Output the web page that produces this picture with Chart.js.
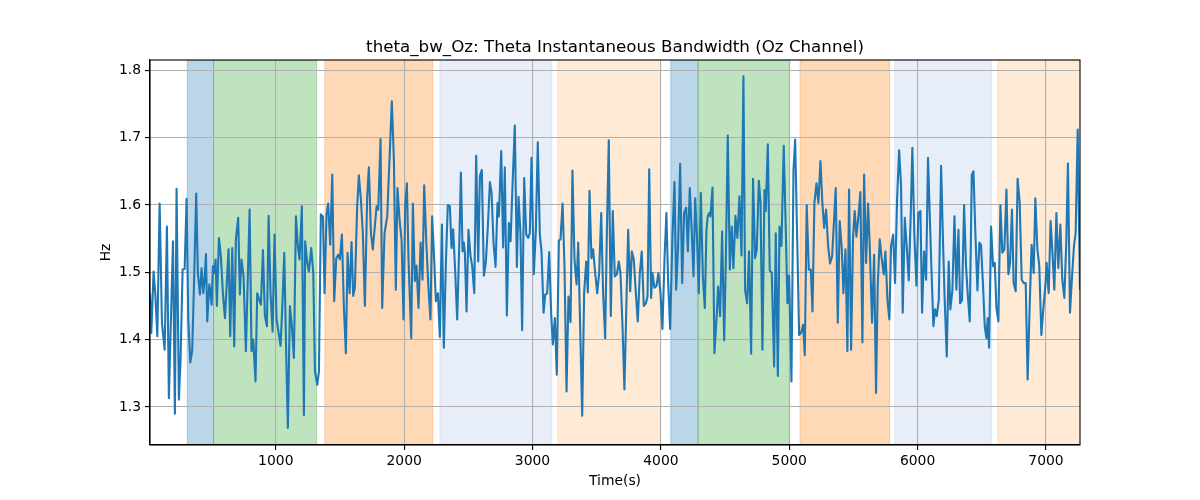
<!DOCTYPE html>
<html>
<head>
<meta charset="utf-8">
<title>theta_bw_Oz</title>
<script src="https://cdn.jsdelivr.net/npm/chart.js@4.4.1/dist/chart.umd.min.js"></script>
<style>
  html, body { margin: 0; padding: 0; background: #fff; }
  #wrap { width: 1200px; height: 500px; }
</style>
</head>
<body>
<div id="wrap"><canvas id="bwChart" width="1200" height="500"></canvas></div>
<script>
/* =========================================
   theta_bw_Oz — Theta instantaneous bandwidth
   ========================================= */

/* --- Data --- */
var TIME_S = [
  20, 30, 48, 61, 77, 95, 113, 134, 152, 167, 199, 214, 227, 245, 258, 274, 290, 305, 318, 334,
  349, 365, 380, 393, 409, 422, 435, 445, 456, 466, 482, 492, 500, 510, 520, 531, 541, 557, 572, 588,
  604, 632, 645, 661, 676, 689, 707, 720, 733, 749, 767, 796, 811, 824, 842, 855, 871, 884, 900, 915,
  931, 944, 959, 975, 990, 1006, 1022, 1037, 1053, 1066, 1081, 1094, 1110, 1125, 1141, 1157, 1172, 1185, 1203, 1219,
  1229, 1245, 1258, 1276, 1292, 1305, 1323, 1336, 1351, 1367, 1380, 1395, 1408, 1424, 1440, 1455, 1471, 1486, 1499, 1515,
  1530, 1546, 1559, 1575, 1590, 1603, 1616, 1634, 1647, 1663, 1678, 1694, 1712, 1725, 1741, 1756, 1769, 1785, 1798, 1816,
  1829, 1847, 1868, 1904, 1920, 1935, 1948, 1964, 1980, 1995, 2008, 2021, 2034, 2055, 2068, 2083, 2096, 2112, 2128, 2143,
  2156, 2174, 2190, 2205, 2218, 2234, 2247, 2263, 2278, 2294, 2309, 2325, 2340, 2356, 2369, 2382, 2398, 2413, 2429, 2442,
  2455, 2465, 2473, 2486, 2501, 2517, 2530, 2546, 2561, 2577, 2590, 2605, 2621, 2636, 2652, 2668, 2681, 2696, 2712, 2727,
  2738, 2756, 2771, 2784, 2800, 2816, 2829, 2844, 2862, 2878, 2891, 2906, 2919, 2935, 2951, 2966, 2979, 2992, 3010, 3026,
  3041, 3057, 3070, 3086, 3099, 3114, 3130, 3145, 3158, 3174, 3189, 3205, 3218, 3234, 3249, 3265, 3280, 3296, 3311, 3327,
  3343, 3356, 3371, 3387, 3402, 3418, 3431, 3444, 3459, 3472, 3488, 3504, 3519, 3535, 3550, 3566, 3579, 3594, 3610, 3625,
  3641, 3657, 3672, 3685, 3701, 3716, 3732, 3745, 3761, 3774, 3789, 3805, 3820, 3836, 3851, 3867, 3883, 3896, 3909, 3924,
  3934, 3950, 3966, 3981, 3997, 4012, 4028, 4043, 4056, 4072, 4090, 4106, 4119, 4134, 4150, 4166, 4181, 4197, 4210, 4225,
  4241, 4254, 4267, 4282, 4295, 4311, 4327, 4342, 4355, 4365, 4376, 4386, 4402, 4417, 4433, 4446, 4461, 4477, 4493, 4506,
  4521, 4537, 4552, 4565, 4581, 4596, 4612, 4628, 4643, 4656, 4672, 4687, 4703, 4718, 4734, 4747, 4763, 4776, 4791, 4807,
  4817, 4833, 4848, 4864, 4882, 4895, 4911, 4924, 4939, 4957, 4973, 4986, 4999, 5017, 5033, 5046, 5061, 5077, 5092, 5108,
  5121, 5136, 5152, 5168, 5181, 5196, 5212, 5227, 5243, 5258, 5272, 5287, 5303, 5318, 5334, 5349, 5362, 5378, 5393, 5409,
  5422, 5438, 5453, 5466, 5482, 5497, 5510, 5523, 5539, 5554, 5570, 5583, 5599, 5614, 5627, 5645, 5661, 5676, 5689, 5705,
  5721, 5736, 5749, 5765, 5780, 5793, 5809, 5824, 5840, 5856, 5871, 5884, 5900, 5915, 5931, 5946, 5959, 5975, 5991, 6006,
  6022, 6035, 6050, 6066, 6081, 6094, 6107, 6123, 6136, 6149, 6165, 6183, 6198, 6211, 6227, 6242, 6255, 6271, 6287, 6302,
  6318, 6331, 6346, 6362, 6377, 6390, 6406, 6422, 6435, 6450, 6466, 6481, 6494, 6510, 6523, 6536, 6546, 6557, 6572, 6588,
  6601, 6614, 6629, 6645, 6660, 6676, 6692, 6707, 6720, 6735, 6748, 6764, 6779, 6795, 6811, 6826, 6842, 6857, 6873, 6888,
  6904, 6917, 6933, 6948, 6964, 6979, 6995, 7005, 7021, 7036, 7049, 7065, 7081, 7096, 7112, 7127, 7143, 7158, 7171, 7187,
  7203, 7218, 7231, 7247, 7265
];

var BW_HZ = [
  1.469, 1.410, 1.501, 1.469, 1.405, 1.602, 1.425, 1.385, 1.568, 1.313, 1.546, 1.290, 1.624, 1.311, 1.370, 1.504, 1.505, 1.609, 1.430, 1.366,
  1.385, 1.499, 1.617, 1.499, 1.467, 1.506, 1.469, 1.489, 1.527, 1.427, 1.482, 1.469, 1.452, 1.509, 1.499, 1.519, 1.450, 1.551, 1.524, 1.469,
  1.432, 1.534, 1.405, 1.536, 1.390, 1.549, 1.581, 1.467, 1.519, 1.494, 1.383, 1.593, 1.383, 1.400, 1.338, 1.469, 1.459, 1.452, 1.533, 1.435,
  1.420, 1.584, 1.469, 1.412, 1.556, 1.430, 1.410, 1.391, 1.459, 1.529, 1.380, 1.269, 1.450, 1.420, 1.373, 1.583, 1.539, 1.519, 1.598, 1.288,
  1.546, 1.514, 1.501, 1.536, 1.499, 1.353, 1.333, 1.353, 1.586, 1.583, 1.469, 1.586, 1.602, 1.541, 1.645, 1.457, 1.521, 1.526, 1.519, 1.556,
  1.450, 1.380, 1.529, 1.469, 1.545, 1.465, 1.477, 1.598, 1.644, 1.608, 1.558, 1.450, 1.613, 1.656, 1.558, 1.534, 1.563, 1.598, 1.593, 1.698,
  1.447, 1.558, 1.583, 1.754, 1.667, 1.474, 1.625, 1.578, 1.548, 1.430, 1.598, 1.632, 1.519, 1.402, 1.602, 1.487, 1.510, 1.447, 1.544, 1.489,
  1.629, 1.539, 1.474, 1.430, 1.583, 1.519, 1.457, 1.469, 1.404, 1.571, 1.388, 1.514, 1.600, 1.598, 1.536, 1.564, 1.499, 1.430, 1.539, 1.648,
  1.531, 1.544, 1.529, 1.442, 1.563, 1.524, 1.509, 1.469, 1.673, 1.516, 1.643, 1.652, 1.495, 1.514, 1.568, 1.634, 1.618, 1.544, 1.508, 1.603,
  1.583, 1.680, 1.537, 1.656, 1.436, 1.573, 1.546, 1.628, 1.718, 1.508, 1.612, 1.558, 1.414, 1.640, 1.556, 1.551, 1.558, 1.670, 1.497, 1.563,
  1.693, 1.556, 1.531, 1.440, 1.467, 1.469, 1.530, 1.440, 1.393, 1.432, 1.348, 1.547, 1.549, 1.602, 1.509, 1.323, 1.464, 1.426, 1.651, 1.519,
  1.482, 1.544, 1.420, 1.287, 1.469, 1.516, 1.470, 1.621, 1.521, 1.534, 1.499, 1.469, 1.499, 1.588, 1.469, 1.402, 1.558, 1.696, 1.435, 1.591,
  1.494, 1.497, 1.516, 1.499, 1.420, 1.326, 1.459, 1.563, 1.472, 1.531, 1.519, 1.469, 1.427, 1.499, 1.531, 1.450, 1.454, 1.464, 1.653, 1.462,
  1.499, 1.477, 1.480, 1.499, 1.469, 1.416, 1.519, 1.588, 1.489, 1.416, 1.553, 1.634, 1.474, 1.539, 1.661, 1.484, 1.588, 1.596, 1.531, 1.625,
  1.558, 1.494, 1.610, 1.549, 1.469, 1.618, 1.494, 1.447, 1.563, 1.583, 1.588, 1.583, 1.626, 1.380, 1.430, 1.479, 1.435, 1.561, 1.399, 1.519,
  1.703, 1.504, 1.568, 1.506, 1.584, 1.551, 1.613, 1.525, 1.791, 1.474, 1.454, 1.531, 1.379, 1.639, 1.521, 1.534, 1.636, 1.604, 1.385, 1.622,
  1.591, 1.690, 1.503, 1.499, 1.360, 1.558, 1.346, 1.568, 1.539, 1.688, 1.563, 1.454, 1.495, 1.338, 1.652, 1.697, 1.558, 1.407, 1.410, 1.422,
  1.377, 1.600, 1.504, 1.504, 1.442, 1.603, 1.632, 1.603, 1.665, 1.603, 1.566, 1.593, 1.539, 1.513, 1.524, 1.578, 1.625, 1.425, 1.576, 1.536,
  1.469, 1.534, 1.383, 1.623, 1.385, 1.553, 1.591, 1.553, 1.583, 1.619, 1.396, 1.645, 1.514, 1.602, 1.539, 1.425, 1.526, 1.321, 1.479, 1.549,
  1.519, 1.497, 1.531, 1.459, 1.430, 1.539, 1.556, 1.484, 1.608, 1.681, 1.628, 1.440, 1.581, 1.539, 1.488, 1.583, 1.685, 1.553, 1.480, 1.588,
  1.591, 1.440, 1.531, 1.489, 1.670, 1.588, 1.509, 1.420, 1.445, 1.435, 1.459, 1.658, 1.544, 1.459, 1.375, 1.516, 1.445, 1.474, 1.583, 1.474,
  1.563, 1.454, 1.459, 1.600, 1.509, 1.469, 1.427, 1.645, 1.650, 1.558, 1.473, 1.544, 1.541, 1.479, 1.420, 1.402, 1.432, 1.388, 1.568, 1.509,
  1.514, 1.447, 1.427, 1.600, 1.529, 1.534, 1.623, 1.497, 1.514, 1.593, 1.484, 1.472, 1.639, 1.603, 1.489, 1.484, 1.484, 1.341, 1.450, 1.541,
  1.499, 1.610, 1.534, 1.509, 1.407, 1.445, 1.479, 1.514, 1.469, 1.576, 1.534, 1.474, 1.588, 1.506, 1.571, 1.489, 1.462, 1.544, 1.662, 1.440,
  1.494, 1.539, 1.558, 1.712, 1.474
];

/* shaded stage intervals, seconds */
var SPAN_START = [310, 515, 1382, 2278, 3197, 4077, 4290, 5084, 5822, 6624];
var SPAN_END   = [515, 1318, 2223, 3150, 3997, 4290, 5001, 5783, 6577, 7300];
var SPAN_KIND  = ['blue', 'green', 'orange', 'lightblue', 'lightorange', 'blue', 'green', 'orange', 'lightblue', 'lightorange'];

var X_TICKS = [1000, 2000, 3000, 4000, 5000, 6000, 7000];
var Y_TICKS = [1.3, 1.4, 1.5, 1.6, 1.7, 1.8];

var TITLE = 'theta_bw_Oz: Theta Instantaneous Bandwidth (Oz Channel)';
var X_LABEL = 'Time(s)';
var Y_LABEL = 'Hz';

/* --- Styles --- */
var SPAN_COLORS = {
  blue: 'rgba(31, 119, 180, 0.3)',
  green: 'rgba(44, 160, 44, 0.3)',
  orange: 'rgba(255, 127, 14, 0.3)',
  lightblue: 'rgba(174, 199, 232, 0.3)',
  lightorange: 'rgba(255, 187, 120, 0.3)'
};
var FONT = 'DejaVu Sans, sans-serif';

(function () {
  'use strict';

  var points = TIME_S.map(function (t, i) { return { x: t, y: BW_HZ[i] }; });

  var spansPlugin = {
    id: 'spans',
    beforeDraw: function (chart) {
      var ctx = chart.ctx;
      var area = chart.chartArea;
      var xs = chart.scales.x;
      ctx.save();
      ctx.beginPath();
      ctx.rect(area.left, area.top, area.right - area.left, area.bottom - area.top);
      ctx.clip();
      for (var i = 0; i < SPAN_START.length; i++) {
        var x0 = xs.getPixelForValue(SPAN_START[i]);
        var x1 = xs.getPixelForValue(SPAN_END[i]);
        ctx.fillStyle = SPAN_COLORS[SPAN_KIND[i]];
        ctx.strokeStyle = SPAN_COLORS[SPAN_KIND[i]];
        ctx.lineWidth = 1;
        ctx.fillRect(x0, area.top, x1 - x0, area.bottom - area.top);
        ctx.strokeRect(x0, area.top, x1 - x0, area.bottom - area.top);
      }
      ctx.restore();
    },
    afterDraw: function (chart) {
      var ctx = chart.ctx;
      var area = chart.chartArea;
      ctx.save();
      // frame on all four sides
      ctx.strokeStyle = '#000';
      ctx.lineWidth = 1.1;
      ctx.strokeRect(area.left, area.top, area.right - area.left, area.bottom - area.top);

      ctx.fillStyle = '#000';
      ctx.textAlign = 'center';
      ctx.font = '16.7px ' + FONT;
      ctx.textBaseline = 'alphabetic';
      ctx.fillText(TITLE, (area.left + area.right) / 2, 52);

      ctx.font = '13.9px ' + FONT;
      ctx.textBaseline = 'middle';
      ctx.fillText(X_LABEL, (area.left + area.right) / 2, 481);

      ctx.translate(106, (area.top + area.bottom) / 2);
      ctx.rotate(-Math.PI / 2);
      ctx.fillText(Y_LABEL, 0, 0);
      ctx.restore();
    }
  };

  var ctx = document.getElementById('bwChart').getContext('2d');
  new Chart(ctx, {
    type: 'line',
    data: {
      datasets: [{
        label: 'theta_bw_Oz',
        data: points,
        borderColor: '#1f77b4',
        borderWidth: 2.1,
        borderJoinStyle: 'round',
        pointRadius: 0,
        tension: 0,
        fill: false
      }]
    },
    options: {
      responsive: false,
      animation: false,
      devicePixelRatio: 1,
      layout: { padding: { top: 60, right: 120, bottom: 0, left: 0 } },
      plugins: {
        legend: { display: false },
        title: { display: false },
        tooltip: { enabled: false }
      },
      scales: {
        x: {
          type: 'linear',
          min: TIME_S[0],
          max: TIME_S[TIME_S.length - 1],
          afterFit: function (s) { s.height = 55; },
          afterBuildTicks: function (s) { s.ticks = X_TICKS.map(function (v) { return { value: v }; }); },
          grid: { color: '#b0b0b0', lineWidth: 1.1, tickColor: '#000', tickLength: 5 },
          border: { color: '#000', width: 1.1 },
          ticks: {
            color: '#000', padding: 3, maxRotation: 0,
            font: { family: FONT, size: 13.9 },
            callback: function (v) { return String(v); }
          }
        },
        y: {
          min: 1.2436,
          max: 1.8152,
          afterFit: function (s) { s.width = 150; },
          afterBuildTicks: function (s) { s.ticks = Y_TICKS.map(function (v) { return { value: v }; }); },
          grid: { color: '#b0b0b0', lineWidth: 1.1, tickColor: '#000', tickLength: 5 },
          border: { color: '#000', width: 1.1 },
          ticks: {
            color: '#000', padding: 4,
            font: { family: FONT, size: 13.9 },
            callback: function (v) { return Number(v).toFixed(1); }
          }
        }
      }
    },
    plugins: [spansPlugin]
  });
})();
</script>
</body>
</html>
